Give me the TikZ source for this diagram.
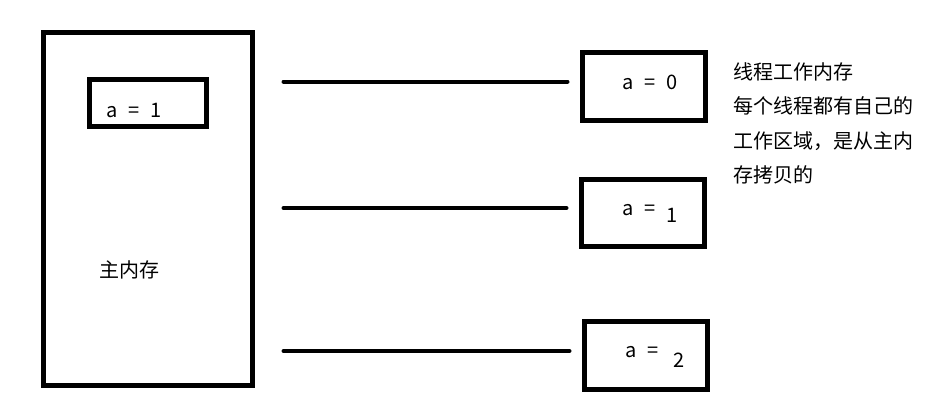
\documentclass[tikz,border=0pt]{standalone}
\usepackage{fontspec}
\setmainfont{Noto Sans CJK SC}
\newfontfamily\valfont[WordSpace=2.5]{Noto Sans CJK SC}
\usetikzlibrary{positioning,calc}

\begin{document}
\begin{tikzpicture}[x=1pt,y=-1pt]
	\tikzset{
		mem/.style={draw, line width=5pt, inner sep=0pt, outer sep=0pt,
			minimum width=209pt, minimum height=353pt},
		cell/.style={draw, line width=5pt, inner sep=0pt, outer sep=0pt,
			minimum width=123pt, minimum height=68pt},
		val/.style={font=\valfont\fontsize{20}{24}\selectfont,
			inner sep=0pt, anchor=base west},
		link/.style={line width=4pt, line cap=round,
			shorten <=31pt, shorten >=15pt}
	}
	\useasboundingbox (0,0) rectangle (944,412);
	
	% MAIN MEMORY
	\node[mem] (main) at (148,209) {};
	\node[cell, minimum width=117pt, minimum height=47pt] (mvar) at (148,103) {};
	\node[val] (mval) at (106,117) {a = 1};
	\node[val, anchor=center] (mlabel) at (129,270) {主内存};
	
	% WORKING MEMORY
	\node[cell] (t1) at (644,86.5) {};
	\node[cell, minimum height=67pt] (t2) at (643,213) {};
	\node[cell] (t3) at (646,355.5) {};
	
	\node[val] (v1) at (622,89) {a = 0};
	\node[val] (v2) at (622,215) {a = \raisebox{-7pt}{1}};
	\node[val] (v3) at (625,357) {a = \hspace{4pt}\raisebox{-10pt}{2}};
	
	\coordinate (e1) at ($(t1.west)+(0,-5)$);
	\coordinate (e2) at ($(t2.west)+(0,-5)$);
	\coordinate (e3) at ($(t3.west)+(0,-4.5)$);
	
	\draw[link] (main.east |- e1) -- (e1);
	\draw[link] (main.east |- e2) -- (e2);
	\draw[link] (main.east |- e3) -- (e3);
	
	% NOTE
	\node[font=\fontsize{20}{34.5}\selectfont, align=left, inner sep=0pt,
		anchor=north west] (note) at (733,62)
		{线程工作内存\\每个线程都有自己的\\工作区域，是从主内\\存拷贝的};
\end{tikzpicture}
\end{document}
